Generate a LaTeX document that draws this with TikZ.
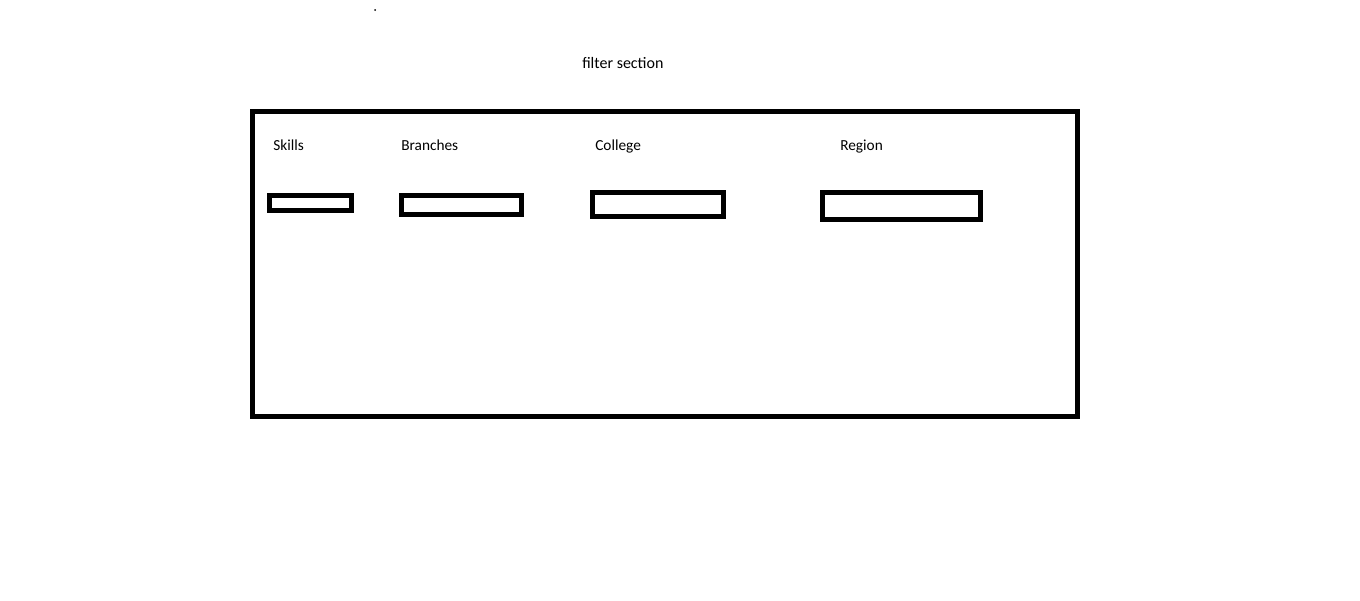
\documentclass[tikz,border=0pt]{standalone}
\usepackage{fontspec}
\setmainfont{Carlito}
\tikzset{%
    field box/.style 2 args={%
        rectangle, draw, line width=3.5pt, inner sep=0pt,
        minimum width=#1*0.75pt, minimum height=#2*0.75pt}
}

\begin{document}
\begin{tikzpicture}[x=0.75pt,y=-0.75pt,
  label node/.style={anchor=base west,inner sep=0pt,font=\fontsize{11.5}{14}\selectfont}]

  \useasboundingbox (0,0) rectangle (1360,600);

  \fill (375,10) circle (1);
  \node[label node,font=\fontsize{12}{14}\selectfont] (title) at (582,68.5) {filter section};

  \node[field box={825}{305},line width=3.75pt] (frame) at (665,264) {};

  \node[label node] (skills) at (273,150) {Skills};
  \node[label node] (branches) at (401,150) {Branches};
  \node[label node] (college) at (595,150) {College};
  \node[label node] (region) at (840,150) {Region};

  \node[field box={82}{15}] (skills box) at (310.5,203) {};
  \node[field box={120}{19}] (branches box) at (461.5,205) {};
  \node[field box={131}{24}] (college box) at (658,204.5) {};
  \node[field box={158}{27}] (region box) at (901.5,206) {};
\end{tikzpicture}
\end{document}
